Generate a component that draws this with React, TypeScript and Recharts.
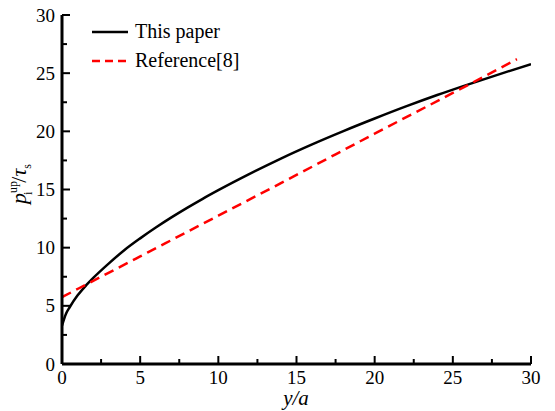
import { LineChart, Line, XAxis, YAxis } from "recharts";

// "This paper" curve
const paperX = [0, 0.25, 0.5, 1, 1.5, 2, 3, 4, 5, 6, 7, 8, 9, 10, 12, 14, 16, 18, 20, 22, 24, 26, 28, 30];
const paperY = [3.3, 4.3, 4.9, 5.9, 6.7, 7.4, 8.65, 9.8, 10.8, 11.73, 12.6, 13.42, 14.2, 14.94, 16.34, 17.66, 18.88, 20.02, 21.1, 22.14, 23.12, 24.04, 24.92, 25.78];

// "Reference[8]" dashed line
const refX = [0, 5, 10, 15, 20, 25, 29.1];
const refY = [5.75, 9.25, 12.75, 16.25, 19.8, 23.3, 26.2];

const xTicks = [0, 2.5, 5, 7.5, 10, 12.5, 15, 17.5, 20, 22.5, 25, 27.5, 30];
const yTicks = [0, 2.5, 5, 7.5, 10, 12.5, 15, 17.5, 20, 22.5, 25, 27.5, 30];

const paperData = paperX.map((x, i) => ({ x, y: paperY[i] }));
const refData = refX.map((x, i) => ({ x, y: refY[i] }));

const FONT = "'Liberation Serif', 'DejaVu Serif', serif";

const XTick = (props: any) => {
  const { x, y, payload } = props;
  const major = payload.value % 5 === 0;
  return (
    <g>
      <line x1={x} x2={x} y1={y} y2={y - (major ? 8 : 5)} stroke="#000" strokeWidth={2} />
      {major && (
        <text x={x} y={y + 20} textAnchor="middle" fontSize={19} fontFamily={FONT} fill="#000">
          {payload.value}
        </text>
      )}
    </g>
  );
};

const YTick = (props: any) => {
  const { x, y, payload } = props;
  const major = payload.value % 5 === 0;
  return (
    <g>
      <line x1={x} x2={x + (major ? 8 : 5)} y1={y} y2={y} stroke="#000" strokeWidth={2} />
      {major && (
        <text x={x - 7} y={y} dy="0.35em" textAnchor="end" fontSize={19} fontFamily={FONT} fill="#000">
          {payload.value}
        </text>
      )}
    </g>
  );
};

const YLabel = () => (
  <text
    x={26}
    y={184}
    transform="rotate(-90, 26, 184)"
    textAnchor="middle"
    fontFamily={FONT}
    fontSize={22}
    fill="#000"
  >
    <tspan fontStyle="italic">p</tspan>
    <tspan fontSize={12} dy={-9}>up</tspan>
    <tspan fontSize={12} dx={-14} dy={15}>i</tspan>
    <tspan dx={9} dy={-6}>/</tspan>
    <tspan fontStyle="italic">τ</tspan>
    <tspan fontSize={12} dy={5}>s</tspan>
  </text>
);

const XLabel = () => (
  <text x={296} y={405} textAnchor="middle" fontFamily={FONT} fontSize={21} fontStyle="italic" fill="#000">
    y/a
  </text>
);

const legendRow = { display: "flex", alignItems: "center", height: 29 };

export default function App() {
  return (
    <div style={{ position: "absolute", left: 0, top: 0, background: "#fff" }}>
      <LineChart width={555} height={411} margin={{ top: 15, right: 24, left: 0, bottom: 0 }}>
        <XAxis
          dataKey="x"
          type="number"
          domain={[0, 30]}
          ticks={xTicks}
          interval={0}
          tickSize={0}
          tickMargin={0}
          height={47}
          axisLine={{ stroke: "#000", strokeWidth: 3 }}
          tickLine={false}
          tick={<XTick />}
          label={<XLabel />}
          allowDataOverflow
        />
        <XAxis
          xAxisId="top"
          orientation="top"
          type="number"
          domain={[0, 30]}
          height={0}
          tick={false}
          tickLine={false}
          axisLine={{ stroke: "#000", strokeWidth: 3 }}
        />
        <YAxis
          type="number"
          domain={[0, 30]}
          ticks={yTicks}
          interval={0}
          tickSize={0}
          tickMargin={0}
          width={62}
          axisLine={{ stroke: "#000", strokeWidth: 3 }}
          tickLine={false}
          tick={<YTick />}
          label={<YLabel />}
          allowDataOverflow
        />
        <YAxis
          yAxisId="right"
          orientation="right"
          type="number"
          domain={[0, 30]}
          width={0}
          tick={false}
          tickLine={false}
          axisLine={{ stroke: "#000", strokeWidth: 3 }}
        />
        <Line
          data={paperData}
          dataKey="y"
          type="monotone"
          stroke="#000"
          strokeWidth={2.5}
          dot={false}
          isAnimationActive={false}
          name="This paper"
        />
        <Line
          data={refData}
          dataKey="y"
          type="monotone"
          stroke="#ff0000"
          strokeWidth={2.5}
          strokeDasharray="10 6"
          dot={false}
          isAnimationActive={false}
          name="Reference[8]"
        />
      </LineChart>
      <div
        style={{
          position: "absolute",
          left: 92,
          top: 17,
          fontFamily: FONT,
          fontSize: 20,
          color: "#000",
          lineHeight: "29px",
        }}
      >
        <div style={legendRow}>
          <svg width={37} height={10} style={{ marginRight: 6 }}>
            <line x1={0} x2={36} y1={5} y2={5} stroke="#000" strokeWidth={2.5} />
          </svg>
          This paper
        </div>
        <div style={legendRow}>
          <svg width={37} height={10} style={{ marginRight: 6 }}>
            <line x1={0} x2={36} y1={5} y2={5} stroke="#ff0000" strokeWidth={2.5} strokeDasharray="8 5" />
          </svg>
          Reference[8]
        </div>
      </div>
    </div>
  );
}
